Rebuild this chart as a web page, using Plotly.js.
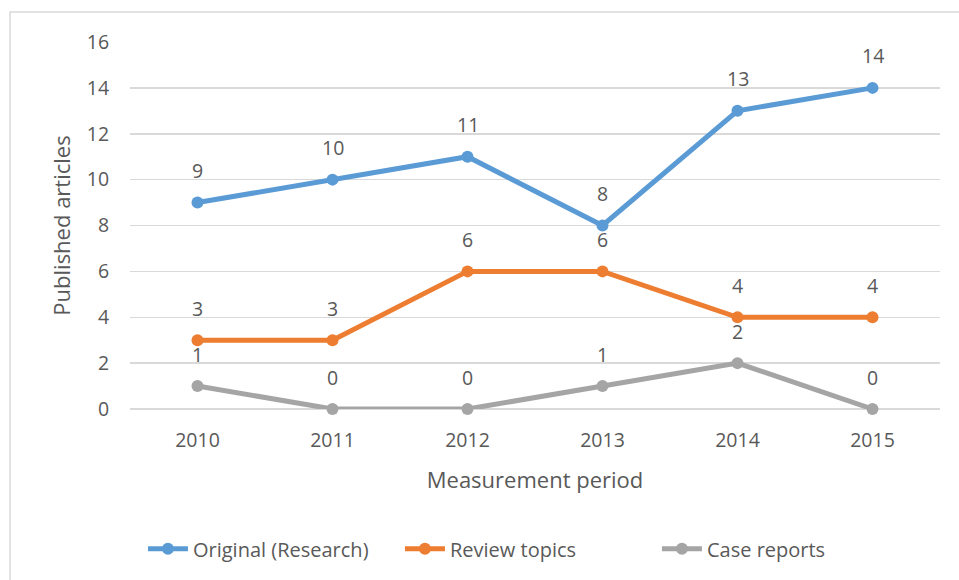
<!DOCTYPE html>
<html>
<head>
<meta charset="utf-8">
<script src="https://cdn.plot.ly/plotly-3.0.1.min.js"></script>
<style>html,body{margin:0;padding:0;background:#fff;}#chart{width:959px;height:580px;}</style>
</head>
<body>
<div id="chart"></div>
<script>
const years = ['2010', '2011', '2012', '2013', '2014', '2015'];
const original = [9, 10, 11, 8, 13, 14];
const review = [3, 3, 6, 6, 4, 4];
const caseReports = [1, 0, 0, 1, 2, 0];
const seriesNames = ['Original (Research)', 'Review topics', 'Case reports'];
const seriesColors = ['#5B9BD5', '#ED7D31', '#A5A5A5'];
const yTicks = [0, 2, 4, 6, 8, 10, 12, 14, 16];

const FONT = '"Open Sans", sans-serif';
const TXT = '#595959';
const allSeries = [original, review, caseReports];

const traces = allSeries.map((vals, i) => ({
  x: years, y: vals, name: seriesNames[i], type: 'scatter', mode: 'lines+markers',
  line: {color: seriesColors[i], width: 5},
  marker: {color: seriesColors[i], size: 12},
  cliponaxis: false
}));

const annotations = [];
allSeries.forEach(vals => {
  vals.forEach((v, j) => {
    annotations.push({x: j, y: v, xref: 'x', yref: 'y', text: String(v),
      showarrow: false, yshift: 32, yanchor: 'middle',
      font: {family: FONT, size: 19.5, color: TXT}});
  });
});

const layout = {
  width: 959, height: 580,
  margin: {l: 130, r: 19, t: 42, b: 171},
  paper_bgcolor: '#fff', plot_bgcolor: '#fff',
  font: {family: FONT, color: TXT, size: 19.5},
  xaxis: {
    type: 'category', range: [-0.5, 5.5], showgrid: false, zeroline: false,
    showline: false, ticks: 'outside', ticklen: 14, tickcolor: 'rgba(0,0,0,0)',
    tickfont: {family: FONT, size: 19.5, color: TXT},
    title: {text: 'Measurement period', font: {family: FONT, size: 22, color: TXT}, standoff: 20}
  },
  yaxis: {
    range: [0, 16], tickvals: yTicks, showgrid: true, gridcolor: '#D9D9D9', gridwidth: 1.5,
    zeroline: true, zerolinecolor: '#D9D9D9', zerolinewidth: 1.5,
    showline: false, ticks: 'outside', ticklen: 16, tickcolor: 'rgba(0,0,0,0)',
    tickfont: {family: FONT, size: 19.5, color: TXT},
    title: {text: 'Published articles', font: {family: FONT, size: 22, color: TXT}, standoff: 10}
  },
  showlegend: true,
  legend: {orientation: 'h', x: 0.016, xanchor: 'left', y: -0.381, yanchor: 'middle',
    font: {family: FONT, size: 20, color: TXT}, itemwidth: 40, traceorder: 'normal',
    entrywidth: 202, entrywidthmode: 'pixels'},
  annotations: annotations,
  shapes: [{type: 'rect', xref: 'paper', yref: 'paper', x0: -0.1481, x1: 1.05, y0: -0.58, y1: 1.082,
    line: {color: '#D9D9D9', width: 1.5}, fillcolor: 'rgba(0,0,0,0)', layer: 'below'}]
};

Plotly.newPlot('chart', traces, layout, {displayModeBar: false, staticPlot: true});
</script>
</body>
</html>
